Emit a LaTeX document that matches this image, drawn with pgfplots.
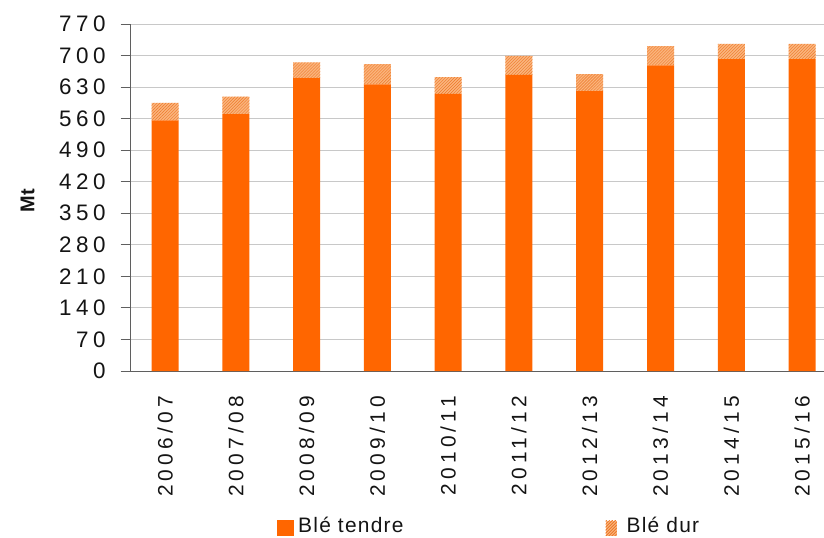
\documentclass[border=0pt]{standalone}
\usepackage{pgfplots}
\pgfplotsset{compat=1.18}
\usepackage{pgfplotstable}
\usepackage{fontspec}
\setmainfont{Liberation Sans}
\newfontfamily\xtickfont[LetterSpace=20]{Liberation Sans}
\newfontfamily\ytickfont[LetterSpace=20]{Liberation Sans}
\newfontfamily\legfont[LetterSpace=6]{Liberation Sans}
\usetikzlibrary{patterns}
\definecolor{tendre}{RGB}{255,102,0}
\definecolor{durbg}{RGB}{250,180,125}
\definecolor{durline}{RGB}{238,120,40}
\definecolor{gridc}{RGB}{200,200,200}
\definecolor{axisc}{RGB}{95,95,95}
\definecolor{txt}{RGB}{20,20,20}

\pgfplotstableread{
x tendre dur
0 556 39
1 570 39
2 650 35
3 636 45
4 615 37
5 657 42
6 621 38
7 678 43
8 692 34
9 692 34
}\data

\begin{document}
\begin{tikzpicture}
\useasboundingbox (-130.7bp,-167bp) rectangle (693.3bp,371bp);
\begin{axis}[
  at={(0,0)}, anchor=south west,
  scale only axis, width=693.3bp, height=347bp,
  xmin=-0.485, xmax=9.31, ymin=0, ymax=770,
  ybar stacked, bar width=27bp,
  axis x line*=bottom, axis y line*=left,
  axis line style={draw=axisc, line width=1bp, -},
  xtick=data,
  xticklabels={2006/07,2007/08,2008/09,2009/10,2010/11,2011/12,2012/13,2013/14,2014/15,2015/16},
  xtick style={draw=none},
  xticklabel style={yshift=-15bp, rotate=90, anchor=east, inner sep=0pt, text=txt,
    font=\xtickfont\fontsize{21}{24}\selectfont},
  ytick={0,70,...,770},
  tick align=outside,
  major tick length=10bp,
  ytick style={draw=axisc, line width=1bp},
  yticklabel style={inner sep=0pt, xshift=-15bp, text=txt, font=\ytickfont\fontsize{22.5}{24}\selectfont},
  /pgf/number format/assume math mode=true,
  ymajorgrids, grid style={draw=gridc, line width=1bp},
  ylabel={Mt},
  every axis y label/.style={at={(axis description cs:0,0.49)}, xshift=-103bp,
    rotate=90, anchor=center, text=txt, font=\bfseries\fontsize{20}{22}\selectfont},
  legend columns=2,
  legend style={at={(axis description cs:0,0)}, anchor=west, xshift=146.3bp, yshift=-155.5bp,
    draw=none, fill=none, inner sep=0pt, text=txt,
    font=\legfont\fontsize{21}{24}\selectfont,
    nodes={inner sep=0pt},
    /tikz/column 1/.style={column sep=4bp},
    /tikz/column 2/.style={column sep=202bp},
    /tikz/column 3/.style={column sep=10bp}},
]
\addplot[fill=tendre, draw=none,
  legend image code/.code={\fill[tendre] (0bp,-10.5bp) rectangle (17bp,5.5bp);}]
  table[x=x, y=tendre] {\data};
\addplot[fill=durbg, draw=none, postaction={pattern=north east lines, pattern color=durline},
  legend image code/.code={\fill[durbg, postaction={pattern=north east lines, pattern color=durline}] (0bp,-10.5bp) rectangle (11bp,4.5bp);}]
  table[x=x, y=dur] {\data};
\legend{Blé tendre, Blé dur}
\end{axis}
\end{tikzpicture}
\end{document}
